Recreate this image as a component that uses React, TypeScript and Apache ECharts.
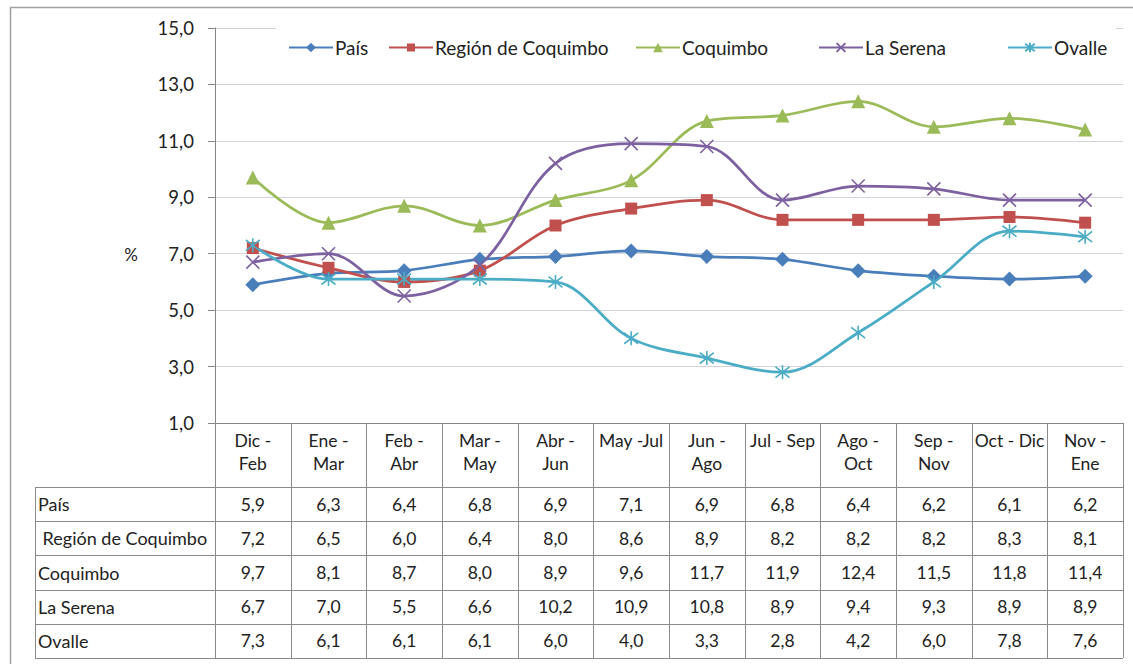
import React, { useEffect, useRef } from "react";
import * as echarts from "echarts";

const categories = ["Dic -\nFeb", "Ene -\nMar", "Feb -\nAbr", "Mar -\nMay", "Abr -\nJun", "May -Jul", "Jun -\nAgo", "Jul - Sep", "Ago -\nOct", "Sep -\nNov", "Oct - Dic", "Nov -\nEne"];
const seriesNames = ["País", "Región de Coquimbo", "Coquimbo", "La Serena", "Ovalle"];
const rowLabels = ["País", " Región de Coquimbo", "Coquimbo", "La Serena", "Ovalle"];
const pais = [5.9, 6.3, 6.4, 6.8, 6.9, 7.1, 6.9, 6.8, 6.4, 6.2, 6.1, 6.2];
const region = [7.2, 6.5, 6.0, 6.4, 8.0, 8.6, 8.9, 8.2, 8.2, 8.2, 8.3, 8.1];
const coquimbo = [9.7, 8.1, 8.7, 8.0, 8.9, 9.6, 11.7, 11.9, 12.4, 11.5, 11.8, 11.4];
const laSerena = [6.7, 7.0, 5.5, 6.6, 10.2, 10.9, 10.8, 8.9, 9.4, 9.3, 8.9, 8.9];
const ovalle = [7.3, 6.1, 6.1, 6.1, 6.0, 4.0, 3.3, 2.8, 4.2, 6.0, 7.8, 7.6];
const yMin = 1;
const yMax = 15;
const yStep = 2;

const allSeries = [pais, region, coquimbo, laSerena, ovalle];
const colors = ["#4A7EBB", "#C0504D", "#9BBB59", "#7D60A0", "#4BACC6"];
const symbols = [
  "diamond",
  "rect",
  "triangle",
  "path://M0,0L10,10M10,0L0,10",
  "path://M0,0L10,10M10,0L0,10M5,-1.5L5,11.5",
];
const symbolSizes = [15, 12, 14, 13, 14];
const legendSymbolSizes = [12, 10, 12, 11, 12];
const legendLefts = [288, 388, 635, 818, 1007];

const FONT = "Lato, 'Liberation Sans', sans-serif";
const fmt = (v: number) => v.toFixed(1).replace(".", ",");

export default function App() {
  const ref = useRef<HTMLDivElement>(null);
  useEffect(() => {
    if (!ref.current) return;
    const chart = echarts.init(ref.current, null, { renderer: "svg" });
    const option: any = {
      animation: false,
      backgroundColor: "#ffffff",
      grid: { left: 215, right: 10, top: 28, bottom: 241 },
      legend: seriesNames.map((n, i) => ({
        data: [n],
        left: legendLefts[i],
        top: 38,
        itemWidth: 44,
        itemHeight: legendSymbolSizes[i],
        padding: 0,
        textStyle: { fontSize: 19, fontFamily: FONT, color: "#222", padding: [0, 0, 0, -3] },
      })),
      xAxis: {
        type: "category",
        data: categories,
        boundaryGap: true,
        axisLine: { lineStyle: { color: "#868686", width: 1 } },
        axisTick: { show: false },
        axisLabel: {
          interval: 0,
          margin: 6,
          fontSize: 17.5,
          lineHeight: 23,
          fontFamily: FONT,
          color: "#222",
          height: 50,
          verticalAlign: "top",
        },
      },
      yAxis: {
        type: "value",
        min: yMin,
        max: yMax,
        interval: yStep,
        axisLine: { show: true, lineStyle: { color: "#868686", width: 1 } },
        axisTick: { show: true, length: 7, lineStyle: { color: "#868686" } },
        axisLabel: {
          fontSize: 18.5,
          fontFamily: FONT,
          color: "#222",
          margin: 21,
          formatter: (v: number) => fmt(v),
        },
        splitLine: { lineStyle: { color: "#d2d4dc", width: 1 } },
      },
      series: allSeries.map((d, i) => ({
        name: seriesNames[i],
        type: "line",
        data: d,
        smooth: 0.35,
        symbol: symbols[i],
        symbolSize: symbolSizes[i],
        lineStyle: { color: colors[i], width: 2.75 },
        itemStyle: {
          color: colors[i],
          borderColor: colors[i],
          borderWidth: i >= 3 ? 1.6 : 0,
        },
        z: 3,
      })),
    };
    chart.setOption(option);

    const c0 = chart.convertToPixel({ xAxisIndex: 0 }, 0) as number;
    const c1 = chart.convertToPixel({ xAxisIndex: 0 }, 1) as number;
    const colW = c1 - c0;
    const left = c0 - colW / 2;
    const n = categories.length;
    const right = left + colW * n;
    const top = chart.convertToPixel({ yAxisIndex: 0 }, yMin) as number;
    const headerH = 64;
    const rowH = 34.2;
    const labelLeft = 35;
    const rowsTop = top + headerH;
    const rowsBottom = rowsTop + rowH * rowLabels.length;
    const lineStyle = { stroke: "#8a8a8a", lineWidth: 1 };
    const g: any[] = [];
    g.push({ type: "line", shape: { x1: 10.5, y1: 7.5, x2: 10.5, y2: 664 }, style: { stroke: "#a0a0a0", lineWidth: 1.5 } });
    g.push({ type: "line", shape: { x1: 10, y1: 7.5, x2: 1133, y2: 7.5 }, style: { stroke: "#a0a0a0", lineWidth: 1.5 } });
    g.push({ type: "rect", shape: { x: 276, y: 22, width: 840, height: 50 }, style: { fill: "#ffffff" }, z: 2 });
    g.push({ type: "text", style: { text: "%", x: 131, y: 254, align: "center", verticalAlign: "middle", fontSize: 17, fontFamily: FONT, fill: "#222" } });
    for (let i = 0; i <= n; i++) {
      const x = Math.round(left + colW * i) + 0.5;
      g.push({ type: "line", shape: { x1: x, y1: top, x2: x, y2: rowsBottom }, style: lineStyle });
    }
    g.push({ type: "line", shape: { x1: labelLeft + 0.5, y1: rowsTop, x2: labelLeft + 0.5, y2: rowsBottom }, style: lineStyle });
    for (let r = 0; r <= rowLabels.length; r++) {
      const y = Math.round(rowsTop + rowH * r) + 0.5;
      g.push({ type: "line", shape: { x1: labelLeft, y1: y, x2: right, y2: y }, style: lineStyle });
    }
    rowLabels.forEach((lab, r) => {
      const cy = rowsTop + rowH * r + rowH / 2;
      g.push({ type: "text", style: { text: lab, x: labelLeft + 3, y: cy, align: "left", verticalAlign: "middle", fontSize: 18, fontFamily: FONT, fill: "#222" } });
      allSeries[r].forEach((v, i) => {
        const cx = left + colW * i + colW / 2;
        g.push({ type: "text", style: { text: fmt(v), x: cx, y: cy, align: "center", verticalAlign: "middle", fontSize: 17.5, fontFamily: FONT, fill: "#222" } });
      });
    });
    chart.setOption({ graphic: g });
    return () => chart.dispose();
  }, []);
  return <div ref={ref} style={{ position: "fixed", left: 0, top: 0, width: 1133, height: 664 }} />;
}
